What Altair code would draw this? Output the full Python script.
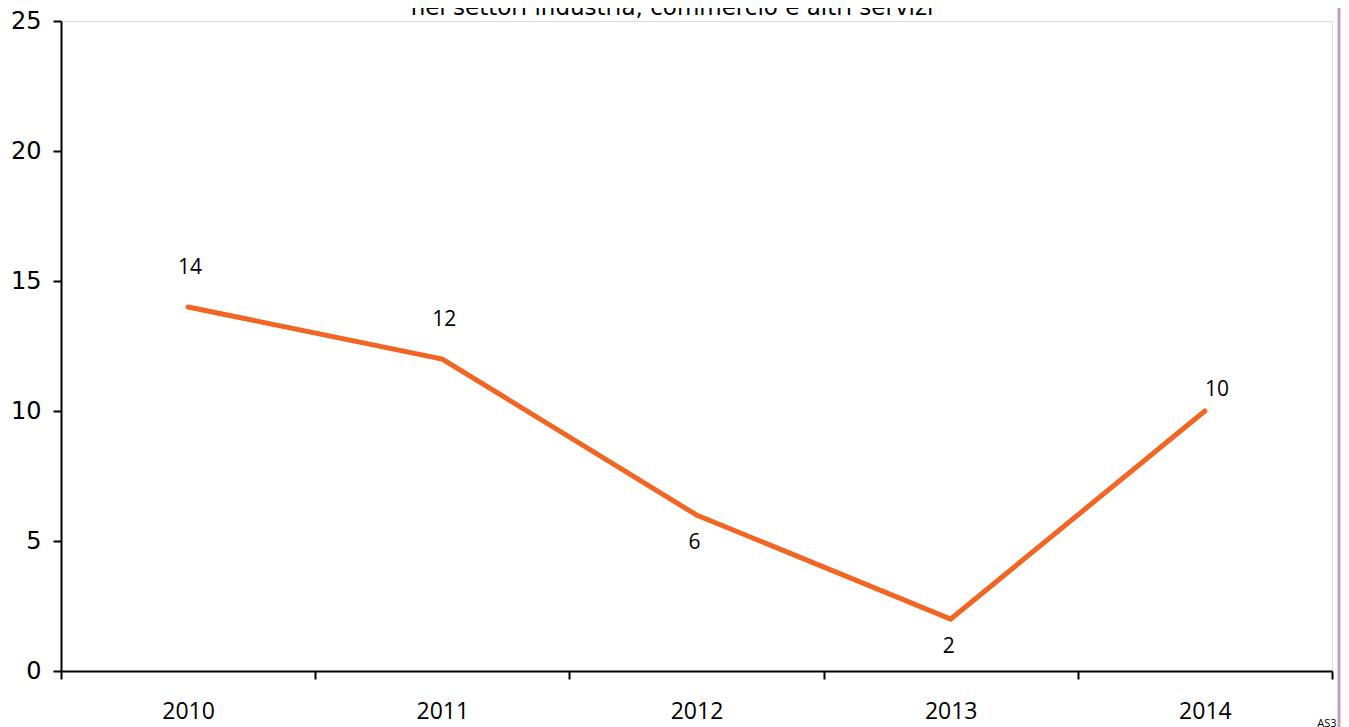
import altair as alt
import pandas as pd

years = ["2010", "2011", "2012", "2013", "2014"]
values = [14, 12, 6, 2, 10]
title_text = "nei settori industria, commercio e altri servizi"
corner_note = "AS3"

df = pd.DataFrame({"anno": years, "valore": values})

FONT = "Open Sans"
FONT_WIDE = "DejaVu Sans"
W, H = 1271, 650

x_enc = alt.X(
    "anno:N",
    sort=years,
    scale=alt.Scale(type="band", paddingInner=0, paddingOuter=0),
    axis=alt.Axis(
        title=None, labelAngle=0, tickBand="extent", labelPadding=21,
        labelFontSize=23, labelFont=FONT, labelColor="#000000",
        domainColor="#000000", domainWidth=2, tickColor="#000000",
        tickWidth=2, tickSize=8, grid=False,
    ),
)
y_enc = alt.Y(
    "valore:Q",
    scale=alt.Scale(domain=[0, 25], nice=False, zero=True),
    axis=alt.Axis(
        title=None, values=[0, 5, 10, 15, 20, 25], labelPadding=12,
        labelFontSize=24, labelFont=FONT_WIDE, labelColor="#000000",
        domainColor="#000000", domainWidth=2, tickColor="#000000",
        tickWidth=2, tickSize=8, grid=False,
    ),
)

base = alt.Chart(df)

line = base.mark_line(color="#F26522", strokeWidth=5, strokeCap="round",
                      strokeJoin="miter").encode(x=x_enc, y=y_enc)

def labels(sel, dx, dy):
    return base.transform_filter(
        alt.FieldOneOfPredicate(field="anno", oneOf=sel)
    ).mark_text(font=FONT, fontSize=21, color="#000000", dx=dx, dy=dy,
                baseline="middle").encode(
        x=alt.X("anno:N", sort=years), y="valore:Q", text="valore:Q"
    )

lab_above = labels(["2010", "2011"], 2, -39)
lab_below = labels(["2012", "2013"], -2, 28)
lab_last = labels(["2014"], 12, -21)

title = alt.Chart(pd.DataFrame({"t": [title_text]})).mark_text(
    font=FONT_WIDE, fontSize=23, color="#000000", align="center", baseline="alphabetic"
).encode(x=alt.value(611), y=alt.value(-6), text="t:N")

note = alt.Chart(pd.DataFrame({"t": [corner_note]})).mark_text(
    font=FONT, fontSize=11, color="#000000", align="center", baseline="alphabetic"
).encode(x=alt.value(1266), y=alt.value(706), text="t:N")

side_rule = alt.Chart(pd.DataFrame({"a": [0]})).mark_rule(
    color="#C29DBE", strokeWidth=3
).encode(x=alt.value(1278), y=alt.value(-21), y2=alt.value(710))

chart = alt.layer(line, lab_above, lab_below, lab_last, title, note, side_rule).properties(
    width=W, height=H,
    autosize=alt.AutoSizeParams(type="none"),
    padding={"left": 53, "top": 13, "right": 9, "bottom": 56},
).configure_view(stroke=None).configure(background="#ffffff")

chart.save("out.html", embed_options={"renderer": "svg", "actions": False})
